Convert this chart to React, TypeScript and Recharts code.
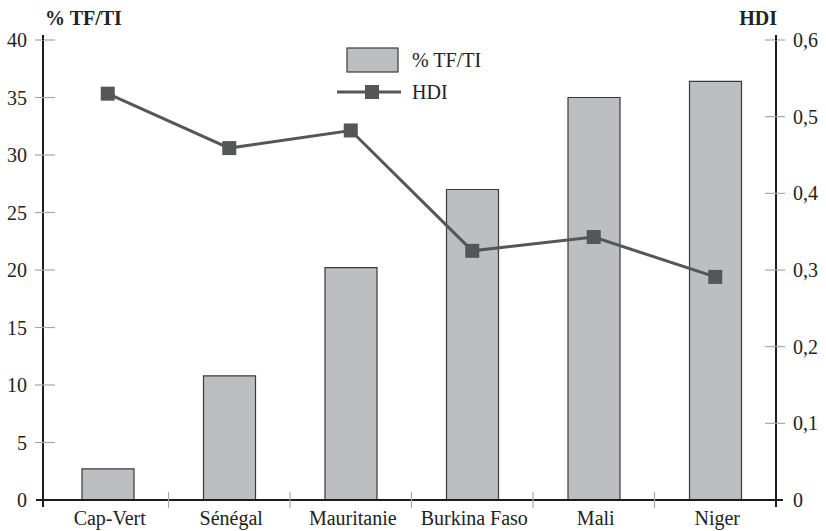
import React from 'react';
import { ComposedChart, Bar, Line, XAxis, YAxis } from 'recharts';

const categories = ['Cap-Vert', 'Sénégal', 'Mauritanie', 'Burkina Faso', 'Mali', 'Niger'];
const tftiValues = [2.7, 10.8, 20.2, 27.0, 35.0, 36.4];
const hdiValues = [0.53, 0.459, 0.482, 0.325, 0.343, 0.291];
const leftTicks = [0, 5, 10, 15, 20, 25, 30, 35, 40];
const rightTicks = [0, 0.1, 0.2, 0.3, 0.4, 0.5, 0.6];
const leftTitle = '% TF/TI';
const rightTitle = 'HDI';

const data = categories.map((c, i) => ({ name: c, tfti: tftiValues[i], hdi: hdiValues[i] }));

const FONT = '"Liberation Serif", "Times New Roman", serif';
const AXIS = '#1c1c1c';
const TICK = '#a8a8a8';
const BAND = 121.5;
const textStyle: React.CSSProperties = { fontFamily: FONT, fontSize: 20, fill: '#222' };
const boldStyle: React.CSSProperties = { fontFamily: FONT, fontSize: 20, fill: '#222', fontWeight: 700 };

const fmtRight = (v: number) => (v === 0 ? '0' : v.toFixed(1).replace('.', ','));

const LeftTick = (props: any) => {
  const { x, y, payload } = props;
  const v = payload.value;
  return (
    <g>
      {v !== 0 && <line x1={x - 8} x2={x + 12} y1={y} y2={y} stroke={TICK} strokeWidth={1.2} />}
      {v === 0 && <line x1={x} x2={x} y1={y} y2={y + 7} stroke={AXIS} strokeWidth={2} />}
      {v === 0 && <line x1={x - 7} x2={x} y1={y} y2={y} stroke={AXIS} strokeWidth={2} />}
      {v === 40 && <line x1={x} x2={x} y1={y - 5} y2={y} stroke={AXIS} strokeWidth={2} />}
      <text x={x - 16} y={y} dy="0.35em" textAnchor="end" style={textStyle}>
        {v}
      </text>
    </g>
  );
};

const RightTick = (props: any) => {
  const { x, y, payload } = props;
  const v = payload.value;
  return (
    <g>
      {v !== 0 && <line x1={x - 11} x2={x + 9} y1={y} y2={y} stroke={TICK} strokeWidth={1.2} />}
      {v === 0 && <line x1={x} x2={x} y1={y} y2={y + 7} stroke={AXIS} strokeWidth={2} />}
      {v === 0 && <line x1={x} x2={x + 7} y1={y} y2={y} stroke={AXIS} strokeWidth={2} />}
      {v === 0.6 && <line x1={x} x2={x} y1={y - 5} y2={y} stroke={AXIS} strokeWidth={2} />}
      <text x={x + 17} y={y} dy="0.35em" textAnchor="start" style={textStyle}>
        {fmtRight(v)}
      </text>
    </g>
  );
};

const CatTick = (props: any) => {
  const { x, y, payload, index } = props;
  return (
    <g>
      {index > 0 && (
        <line x1={x - BAND / 2} x2={x - BAND / 2} y1={y - 8} y2={y + 8} stroke={TICK} strokeWidth={1.2} />
      )}
      <text x={x + 2} y={y + 25} textAnchor="middle" style={textStyle}>
        {payload.value}
      </text>
    </g>
  );
};

const SquareDot = (props: any) => {
  const { cx, cy } = props;
  if (cx == null || cy == null) return null;
  return <rect x={cx - 7} y={cy - 7} width={14} height={14} fill="#555658" />;
};

const LegendBox = () => (
  <svg
    width={160}
    height={70}
    style={{ position: 'absolute', left: 337, top: 44, overflow: 'visible', pointerEvents: 'none' }}
  >
    <rect x={10} y={4} width={51} height={24} fill="#bdbec2" stroke="#3a3a3a" strokeWidth={1.2} />
    <text x={75} y={16} dy="0.35em" style={textStyle}>
      {leftTitle}
    </text>
    <line x1={0} x2={64} y1={48} y2={48} stroke="#555658" strokeWidth={3} />
    <rect x={28} y={41} width={14} height={14} fill="#555658" />
    <text x={75} y={48} dy="0.35em" style={textStyle}>
      {rightTitle}
    </text>
  </svg>
);

export default function App() {
  return (
    <div
      style={{
        position: 'absolute',
        left: 0,
        top: 0,
        width: 826,
        height: 531,
        background: '#fff',
        fontFamily: FONT,
      }}
    >
      <ComposedChart
        width={826}
        height={531}
        data={data}
        margin={{ top: 40, right: 49, left: 42, bottom: 30 }}
        style={{ fontFamily: FONT }}
      >
        <XAxis
          dataKey="name"
          height={1}
          padding={{ left: 4, right: 0 }}
          axisLine={{ stroke: AXIS, strokeWidth: 2 }}
          tickLine={false}
          tickSize={0}
          tickMargin={0}
          tick={<CatTick />}
          interval={0}
        />
        <YAxis
          yAxisId="left"
          orientation="left"
          width={1}
          domain={[0, 40]}
          ticks={leftTicks}
          interval={0}
          axisLine={{ stroke: AXIS, strokeWidth: 2 }}
          tickLine={false}
          tickSize={0}
          tickMargin={0}
          tick={<LeftTick />}
          label={{
            content: (p: any) => (
              <text x={p.viewBox.x + 3} y={p.viewBox.y - 15} style={boldStyle}>
                {leftTitle}
              </text>
            ),
          }}
        />
        <YAxis
          yAxisId="right"
          orientation="right"
          width={1}
          domain={[0, 0.6]}
          ticks={rightTicks}
          interval={0}
          axisLine={{ stroke: AXIS, strokeWidth: 2 }}
          tickLine={false}
          tickSize={0}
          tickMargin={0}
          tick={<RightTick />}
          label={{
            content: (p: any) => (
              <text x={p.viewBox.x + 1} y={p.viewBox.y - 15} textAnchor="end" style={boldStyle}>
                {rightTitle}
              </text>
            ),
          }}
        />
        <Bar
          yAxisId="left"
          dataKey="tfti"
          name={leftTitle}
          barSize={52}
          fill="#bdbec2"
          stroke="#3a3a3a"
          strokeWidth={1.2}
          isAnimationActive={false}
        />
        <Line
          yAxisId="right"
          dataKey="hdi"
          name={rightTitle}
          stroke="#555658"
          strokeWidth={3}
          dot={<SquareDot />}
          activeDot={false}
          isAnimationActive={false}
        />
      </ComposedChart>
      <LegendBox />
    </div>
  );
}
